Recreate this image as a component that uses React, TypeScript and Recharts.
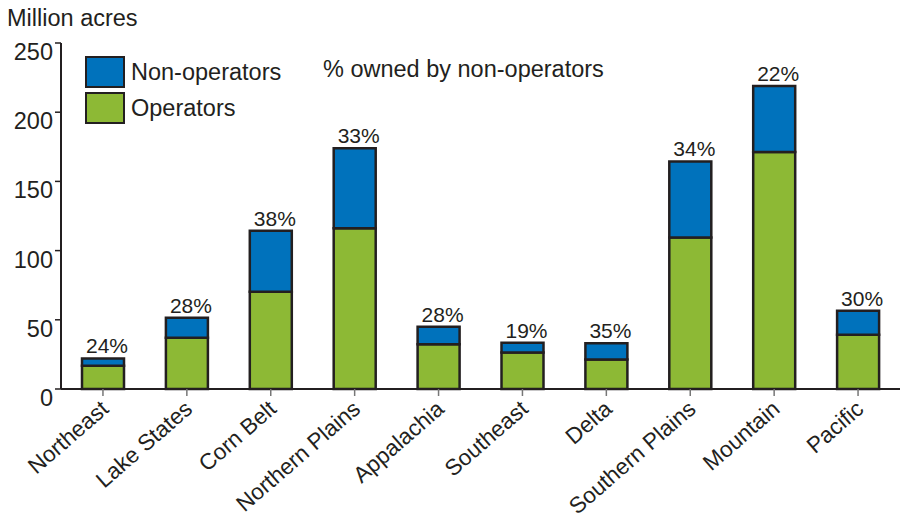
import { BarChart, Bar, XAxis, YAxis, LabelList } from "recharts"

const regions = [
  "Northeast",
  "Lake States",
  "Corn Belt",
  "Northern Plains",
  "Appalachia",
  "Southeast",
  "Delta",
  "Southern Plains",
  "Mountain",
  "Pacific",
]
const operators = [16.8, 37.0, 70.2, 116.2, 32.4, 26.4, 21.4, 109.4, 171.2, 39.2]
const nonOperators = [5.3, 14.4, 44.1, 57.7, 12.6, 7.0, 11.6, 55.0, 47.8, 17.3]
const pctNonOperators = ["24%", "28%", "38%", "33%", "28%", "19%", "35%", "34%", "22%", "30%"]
const yTicks = [0, 50, 100, 150, 200, 250]

const BLUE = "#0072bc"
const GREEN = "#8db935"
const INK = "#231f20"
const FONT = '"Liberation Sans", Arial, Helvetica, sans-serif'

const data = regions.map((region, i) => ({
  region,
  operators: operators[i],
  nonOperators: nonOperators[i],
  pct: pctNonOperators[i],
}))

function RegionTick(props: any) {
  const { x, y, payload } = props
  return (
    <text
      transform={`translate(${x + 7},${y + 13}) rotate(-41)`}
      textAnchor="end"
      fontSize={22.5}
      fill={INK}
      fontFamily={FONT}
    >
      {payload.value}
    </text>
  )
}

function AcresTick(props: any) {
  const { x, y, payload } = props
  return (
    <text x={x} y={y + 17} textAnchor="end" fontSize={23.5} fill={INK} fontFamily={FONT}>
      {payload.value}
    </text>
  )
}

function LegendBox() {
  const swatch = (color: string) => ({
    width: 36,
    height: 28,
    background: color,
    border: `2px solid ${INK}`,
    marginRight: 6,
  })
  const row = { display: "flex", alignItems: "center", height: 36 }
  return (
    <div
      style={{
        position: "absolute",
        left: 85,
        top: 54,
        fontFamily: FONT,
        fontSize: 23.5,
        color: INK,
        zIndex: 2,
      }}
    >
      <div style={row}>
        <div style={swatch(BLUE)} />
        <span>Non-operators</span>
      </div>
      <div style={row}>
        <div style={swatch(GREEN)} />
        <span>Operators</span>
      </div>
      <span style={{ position: "absolute", left: 238, top: 0, whiteSpace: "nowrap", lineHeight: "30px" }}>
        % owned by non-operators
      </span>
    </div>
  )
}

export default function App() {
  return (
    <div style={{ position: "absolute", left: 0, top: 0, width: 900, height: 521, fontFamily: FONT }}>
      <div style={{ position: "absolute", left: 7, top: 5, fontSize: 23.5, color: INK }}>Million acres</div>
      <LegendBox />
      <BarChart
        width={900}
        height={521}
        data={data}
        margin={{ top: 43, right: 0, bottom: 0, left: 8 }}
      >
        <XAxis
          dataKey="region"
          height={132}
          interval={0}
          axisLine={{ stroke: INK, strokeWidth: 2 }}
          tickLine={{ stroke: "#777", strokeWidth: 1.5 }}
          tickSize={7}
          tick={<RegionTick />}
        />
        <YAxis
          width={53}
          domain={[0, 250]}
          ticks={yTicks}
          axisLine={{ stroke: INK, strokeWidth: 2 }}
          tickLine={{ stroke: INK, strokeWidth: 1.5 }}
          tick={<AcresTick />}
        />
        <Bar
          dataKey="operators"
          stackId="a"
          fill={GREEN}
          stroke={INK}
          strokeWidth={2.5}
          barSize={42}
          isAnimationActive={false}
        />
        <Bar
          dataKey="nonOperators"
          stackId="a"
          fill={BLUE}
          stroke={INK}
          strokeWidth={2.5}
          barSize={42}
          isAnimationActive={false}
        >
          <LabelList dataKey="pct" position="top" offset={5} dx={4} fontSize={21} fill={INK} fontFamily={FONT} />
        </Bar>
      </BarChart>
    </div>
  )
}
